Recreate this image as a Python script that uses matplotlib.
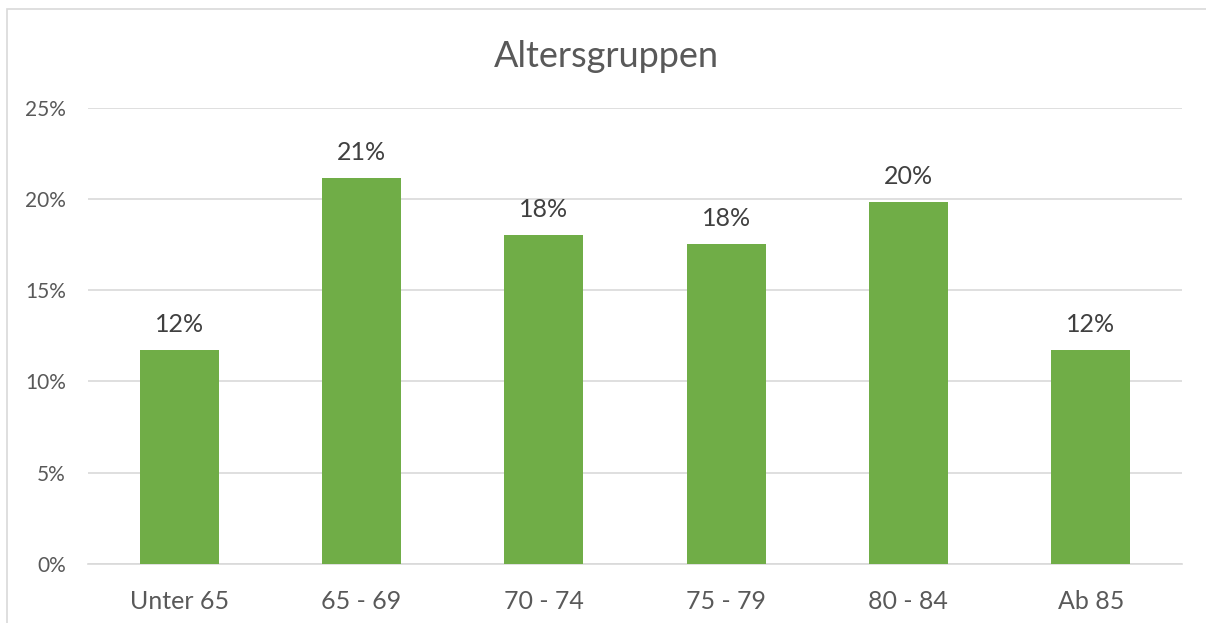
import matplotlib.pyplot as plt
from matplotlib.patches import Rectangle
from matplotlib.ticker import PercentFormatter

# data
categories = ['Unter 65', '65 - 69', '70 - 74', '75 - 79', '80 - 84', 'Ab 85']
shares = [11.7, 21.16, 18.0, 17.54, 19.81, 11.7]
labels = ['12%', '21%', '18%', '18%', '20%', '12%']

plt.rcParams['font.family'] = ['Lato', 'DejaVu Sans']

fig = plt.figure(figsize=(12.06, 6.23), dpi=100)
ax = fig.add_axes([0.073, 0.0947, 0.907, 0.7327])

x = range(len(categories))
bars = ax.bar(x, shares, width=0.433, color='#70AD47', zorder=3)

for b, lab in zip(bars, labels):
    ax.annotate(lab, (b.get_x() + b.get_width() / 2, b.get_height()),
                xytext=(0, 10), textcoords='offset points',
                ha='center', va='bottom', fontsize=18, color='#404040')

ax.set_xlim(-0.5, len(categories) - 0.5)
ax.set_ylim(0, 25)
ax.set_yticks([0, 5, 10, 15, 20, 25])
ax.yaxis.set_major_formatter(PercentFormatter(decimals=0))
ax.set_xticks(list(x))
ax.set_xticklabels(categories)

ax.grid(axis='y', color='#D9D9D9', linewidth=1.2, zorder=0)
for s in ['top', 'right', 'left']:
    ax.spines[s].set_visible(False)
ax.spines['bottom'].set_color('#D9D9D9')
ax.spines['bottom'].set_linewidth(1.2)

ax.tick_params(axis='y', length=0, pad=16, labelsize=15, labelcolor='#595959')
ax.tick_params(axis='x', length=0, pad=19, labelsize=18, labelcolor='#595959')

fig.text(0.503, 0.91, 'Altersgruppen', ha='center', va='center',
         fontsize=26, color='#595959')

# outer chart border (cropped on right and bottom)
fig.patches.append(Rectangle((7 / 1206, -0.1), 1.2, 1 - 9 / 623 + 0.1,
                             transform=fig.transFigure, fill=False,
                             edgecolor='#D9D9D9', linewidth=1.2))

fig.savefig('out.png', dpi=100)
